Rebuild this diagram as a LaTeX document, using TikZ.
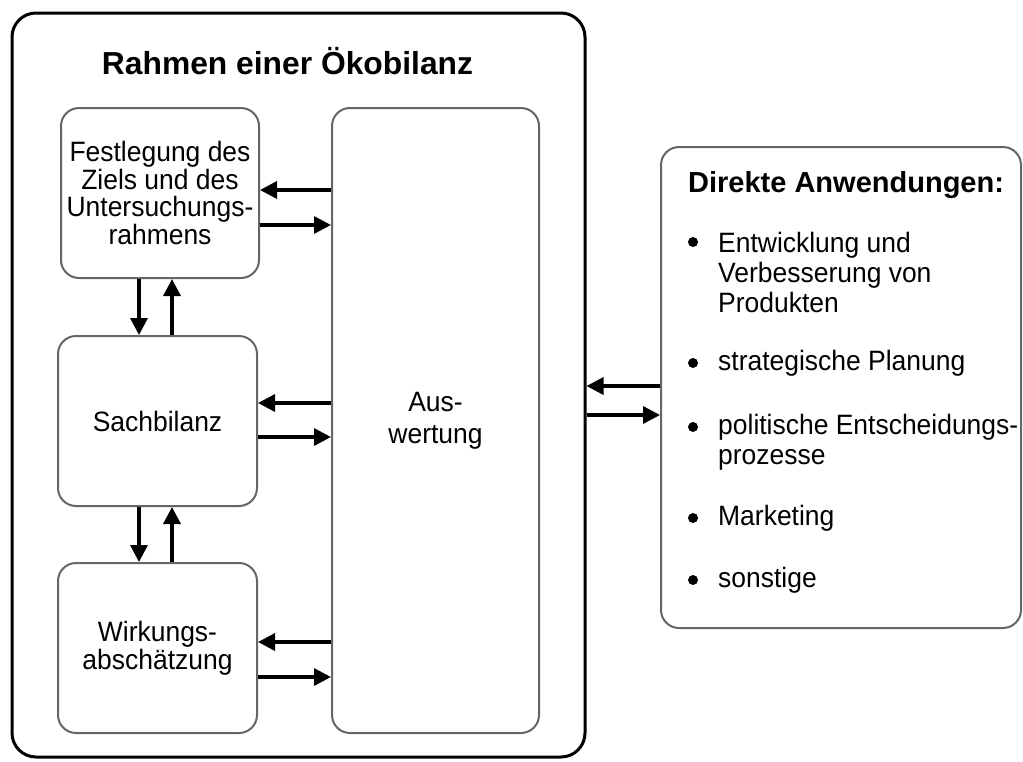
\documentclass[tikz,border=0pt]{standalone}
\usepackage{fontspec}
\setmainfont{Liberation Sans}
\newfontfamily\narrowsans{Liberation Sans}[FakeStretch=0.945]
\usetikzlibrary{arrows.meta}
\begin{document}
\begin{tikzpicture}[x=1pt,y=-1pt,
  outerframe/.style={draw=black, line width=3pt, rounded corners=24pt, inner sep=0pt},
  stage/.style={draw=black!60, line width=2pt, rounded corners=18pt, align=center,
    inner sep=0pt, font=\narrowsans\fontsize{28}{27.5}\selectfont},
  heading/.style={font=\fontsize{31.8}{34}\selectfont\bfseries, inner sep=0pt},
  subheading/.style={font=\fontsize{29}{30}\selectfont\bfseries, inner sep=0pt},
  itemtext/.style={font=\narrowsans\fontsize{28}{30}\selectfont, align=left, inner sep=0pt, anchor=west},
  bul/.style={circle, fill=black, inner sep=0pt, minimum size=10pt},
  arr/.style={-{Triangle[length=17pt,width=17pt]}, line width=3.4pt, draw=black}]
\useasboundingbox (0,0) rectangle (1023,761);

% outer frame with title
\node[outerframe, minimum width=573pt, minimum height=744pt] (frame) at (298.5,385) {};
\node[heading, anchor=base] (title) at (287.5,74) {Rahmen einer Ökobilanz};

% phases of the assessment
\node[stage, minimum width=198pt, minimum height=170pt] (fest) at (160,193)
  {Festlegung des\\Ziels und des\\Untersuchungs-\\rahmens};
\node[stage, minimum width=199pt, minimum height=170pt] (sach) at (157.5,421) {Sachbilanz};
\node[stage, minimum width=199pt, minimum height=170pt] (wirk) at (157.5,648)
  {Wirkungs-\\abschätzung};
\node[stage, minimum width=207pt, minimum height=625pt, font=\narrowsans\fontsize{28}{32}\selectfont]
  (ausw) at (435.5,420.5) {Aus-\\wertung};

% applications box
\node[stage, minimum width=360pt, minimum height=481pt] (apps) at (841,387.5) {};
\node[subheading, anchor=west] (apphead) at (688,185) {Direkte Anwendungen:};
\node[bul] (b1) at (693,242) {};
\node[itemtext] (i1) at (718,272) {Entwicklung und\\Verbesserung von\\Produkten};
\node[bul] (b2) at (693,363) {};
\node[itemtext] (i2) at (718,363) {strategische Planung};
\node[bul] (b3) at (693,427) {};
\node[itemtext] (i3) at (718,442) {politische Entscheidungs-\\prozesse};
\node[bul] (b4) at (693,518) {};
\node[itemtext] (i4) at (718,518) {Marketing};
\node[bul] (b5) at (693,580) {};
\node[itemtext] (i5) at (718,580) {sonstige};

% exchanges with the evaluation
\draw[arr] (ausw.west |- 0,190) -- (fest.east |- 0,190);
\draw[arr] (fest.east |- 0,225) -- (ausw.west |- 0,225);
\draw[arr] (ausw.west |- 0,403) -- (sach.east |- 0,403);
\draw[arr] (sach.east |- 0,437) -- (ausw.west |- 0,437);
\draw[arr] (ausw.west |- 0,642) -- (wirk.east |- 0,642);
\draw[arr] (wirk.east |- 0,677) -- (ausw.west |- 0,677);

% exchanges between neighbouring phases
\draw[arr] (fest.south -| 139,0) -- (sach.north -| 139,0);
\draw[arr] (sach.north -| 172,0) -- (fest.south -| 172,0);
\draw[arr] (sach.south -| 139,0) -- (wirk.north -| 139,0);
\draw[arr] (wirk.north -| 172,0) -- (sach.south -| 172,0);

% exchanges with the applications
\draw[arr] (apps.west |- 0,386) -- (frame.east |- 0,386);
\draw[arr] (frame.east |- 0,415) -- (apps.west |- 0,415);
\end{tikzpicture}
\end{document}
